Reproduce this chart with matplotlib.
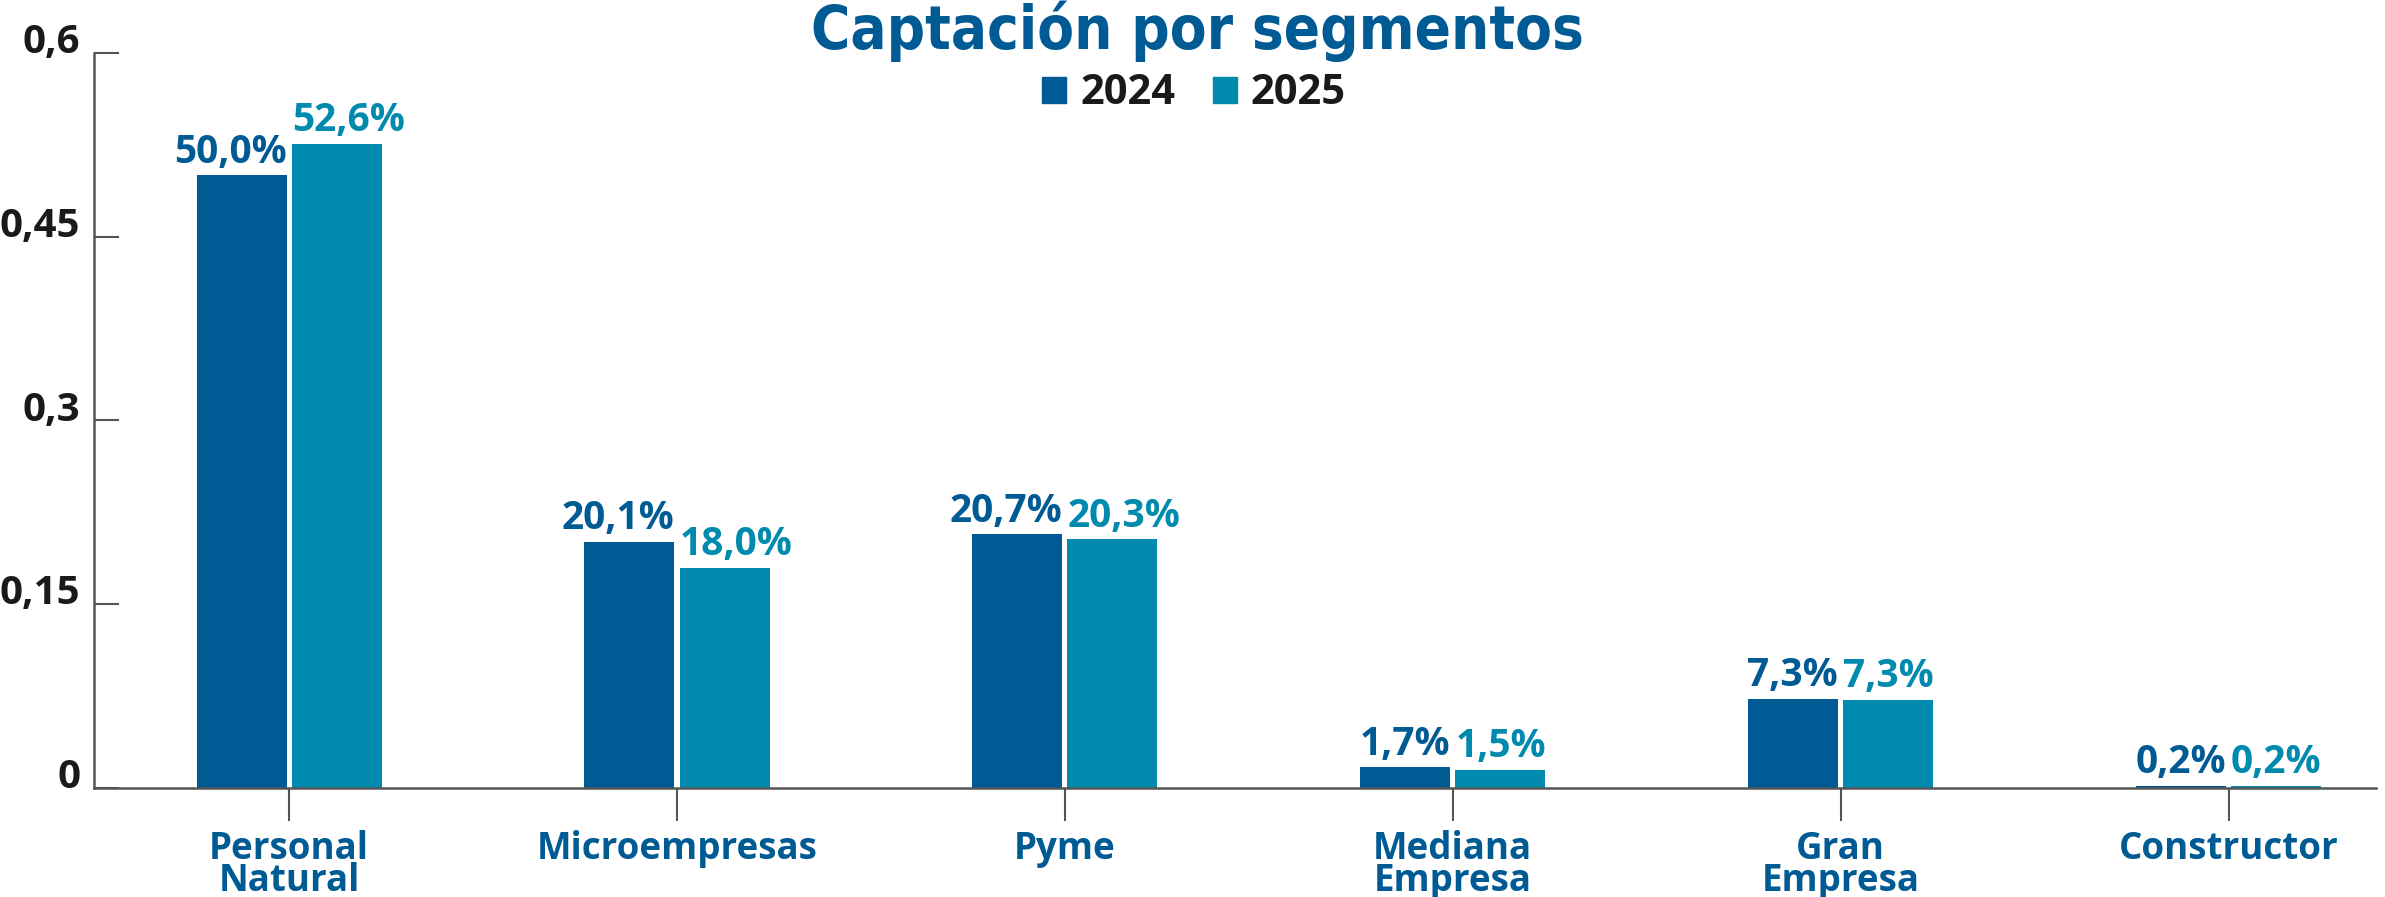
import matplotlib
matplotlib.use("Agg")
import matplotlib.pyplot as plt
from matplotlib.patches import Patch

categories = ["Personal\nNatural", "Microempresas", "Pyme", "Mediana\nEmpresa", "Gran\nEmpresa", "Constructor"]
years = ["2024", "2025"]
vals_2024 = [0.500, 0.201, 0.207, 0.017, 0.073, 0.002]
vals_2025 = [0.526, 0.180, 0.203, 0.015, 0.072, 0.002]
labels_2024 = ["50,0%", "20,1%", "20,7%", "1,7%", "7,3%", "0,2%"]
labels_2025 = ["52,6%", "18,0%", "20,3%", "1,5%", "7,3%", "0,2%"]
yticks = [0, 0.15, 0.3, 0.45, 0.6]
ytick_labels = ["0", "0,15", "0,3", "0,45", "0,6"]

c2024 = "#005b94"
c2025 = "#008aae"
axis_col = "#555555"
font = ["Open Sans", "DejaVu Sans"]

fig = plt.figure(figsize=(23.85, 8.97), dpi=100)
ax = fig.add_axes([94 / 2385, 1 - 788 / 897, (2376 - 94) / 2385, (788 - 53) / 897])

x = list(range(len(categories)))
w = 0.232
off = 0.1225
b1 = ax.bar([i - off for i in x], vals_2024, width=w, color=c2024)
b2 = ax.bar([i + off for i in x], vals_2025, width=w, color=c2025)

# 2024 labels end at the bar's right edge, 2025 labels start at the bar's left edge
for rect, lab in zip(b1, labels_2024):
    ax.annotate(lab, (rect.get_x() + rect.get_width(), rect.get_height()),
                xytext=(0, 9), textcoords="offset points", ha="right", va="baseline",
                fontsize=28, fontweight="bold", color=c2024, family=font)
for rect, lab in zip(b2, labels_2025):
    ax.annotate(lab, (rect.get_x(), rect.get_height()),
                xytext=(0, 9), textcoords="offset points", ha="left", va="baseline",
                fontsize=28, fontweight="bold", color=c2025, family=font)

ax.set_xlim(-0.503, 5.38)
ax.set_ylim(0, 0.6)
ax.set_yticks(yticks)
ax.set_yticklabels(ytick_labels, family=font, fontweight="bold", fontsize=29, color="#1a1a1a", va="baseline")
ax.set_xticks(x)
ax.set_xticklabels(categories, family=font, fontweight="bold", fontsize=26.5, color=c2024,
                   linespacing=0.82, va="top")
ax.tick_params(axis="y", direction="in", length=18, width=1.5, color=axis_col, pad=10)
ax.tick_params(axis="x", direction="out", length=24, width=1.5, color=axis_col, pad=6)
for s in ["top", "right"]:
    ax.spines[s].set_visible(False)
for s in ["left", "bottom"]:
    ax.spines[s].set_color(axis_col)
    ax.spines[s].set_linewidth(1.8)

fig.text(1197 / 2385, 1 - 31 / 897, "Captación por segmentos", ha="center", va="center",
         fontsize=43, fontweight="bold", fontstretch="condensed", color=c2024,
         family=["DejaVu Sans"])

handles = [Patch(color=c2024, label=years[0]), Patch(color=c2025, label=years[1])]
leg = fig.legend(handles=handles, loc="center", bbox_to_anchor=(1194 / 2385, 1 - 94 / 897), ncol=2,
                 frameon=False, handlelength=0.58, handleheight=0.58, handletextpad=0.33, columnspacing=0.9,
                 prop={"family": font, "weight": "bold", "size": 30})
for t in leg.get_texts():
    t.set_color("#1a1a1a")

fig.savefig("out.png", dpi=100)
